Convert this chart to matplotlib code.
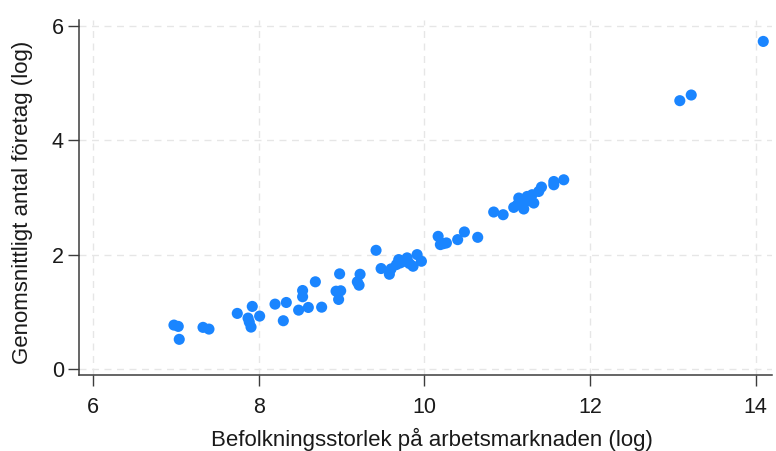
import matplotlib
matplotlib.use("Agg")
import matplotlib.pyplot as plt

# log population per labour market region vs log mean number of firms
pop_log = [
    6.975, 7.027, 7.039, 7.326, 7.398, 7.740, 7.921, 7.870, 7.885, 7.906,
    8.010, 8.196, 8.332, 8.296, 8.481, 8.529, 8.529, 8.598, 8.683, 8.759,
    8.976, 8.933, 8.989, 8.964, 9.223, 9.190, 9.211, 9.416, 9.477, 9.577,
    9.598, 9.690, 9.710, 9.750, 9.791, 9.863, 9.912, 9.964, 9.662, 9.819,
    10.166, 10.193, 10.266, 10.230, 10.402, 10.483, 10.644, 10.837, 10.951, 11.079,
    11.140, 11.181, 11.200, 11.241, 11.301, 11.321, 11.381, 11.414, 11.563, 11.563,
    11.683, 11.124, 11.257, 13.085, 13.223, 14.093,
]
firms_log = [
    0.772, 0.749, 0.523, 0.732, 0.702, 0.976, 1.098, 0.894, 0.824, 0.737,
    0.929, 1.138, 1.167, 0.848, 1.033, 1.376, 1.267, 1.080, 1.528, 1.085,
    1.667, 1.364, 1.371, 1.220, 1.660, 1.528, 1.469, 2.078, 1.760, 1.660,
    1.754, 1.916, 1.859, 1.887, 1.946, 1.800, 2.003, 1.887, 1.829, 1.847,
    2.322, 2.178, 2.207, 2.195, 2.265, 2.399, 2.305, 2.747, 2.700, 2.828,
    2.991, 2.904, 2.800, 3.019, 3.049, 2.904, 3.106, 3.183, 3.280, 3.223,
    3.310, 2.875, 2.944, 4.692, 4.791, 5.727,
]
x_ticks = [6, 8, 10, 12, 14]
y_ticks = [0, 2, 4, 6]

plt.rcParams["font.family"] = ["Liberation Sans", "DejaVu Sans"]

fig = plt.figure(figsize=(7.76, 4.51), dpi=100)
ax = fig.add_axes([0.102, 0.1685, 0.893, 0.787])

ax.scatter(pop_log, firms_log, s=64, color="#1a85ff", edgecolors="none", zorder=3)

ax.set_xlim(5.83, 14.2)
ax.set_ylim(-0.1, 6.1)
ax.set_xticks(x_ticks)
ax.set_yticks(y_ticks)
ax.grid(True, linestyle=(0, (5, 4)), color="#e6e6e6", linewidth=1.0, zorder=0)

for side in ("top", "right"):
    ax.spines[side].set_visible(False)
for side in ("left", "bottom"):
    ax.spines[side].set_color("#3c3c3c")
    ax.spines[side].set_linewidth(1.1)

ax.tick_params(direction="out", length=8, width=1.0, color="#3c3c3c",
               labelsize=15.5, labelcolor="#1a1a1a")
ax.tick_params(axis="x", pad=8)
ax.tick_params(axis="y", pad=3)
ax.set_xlabel("Befolkningsstorlek på arbetsmarknaden (log)", fontsize=16,
              color="#1a1a1a")
ax.set_ylabel("Genomsnittligt antal företag (log)", fontsize=16,
              color="#1a1a1a")
ax.xaxis.set_label_coords(0.509, -0.15)
ax.yaxis.set_label_coords(-0.066, 0.487)

fig.savefig("out.png", dpi=100)
